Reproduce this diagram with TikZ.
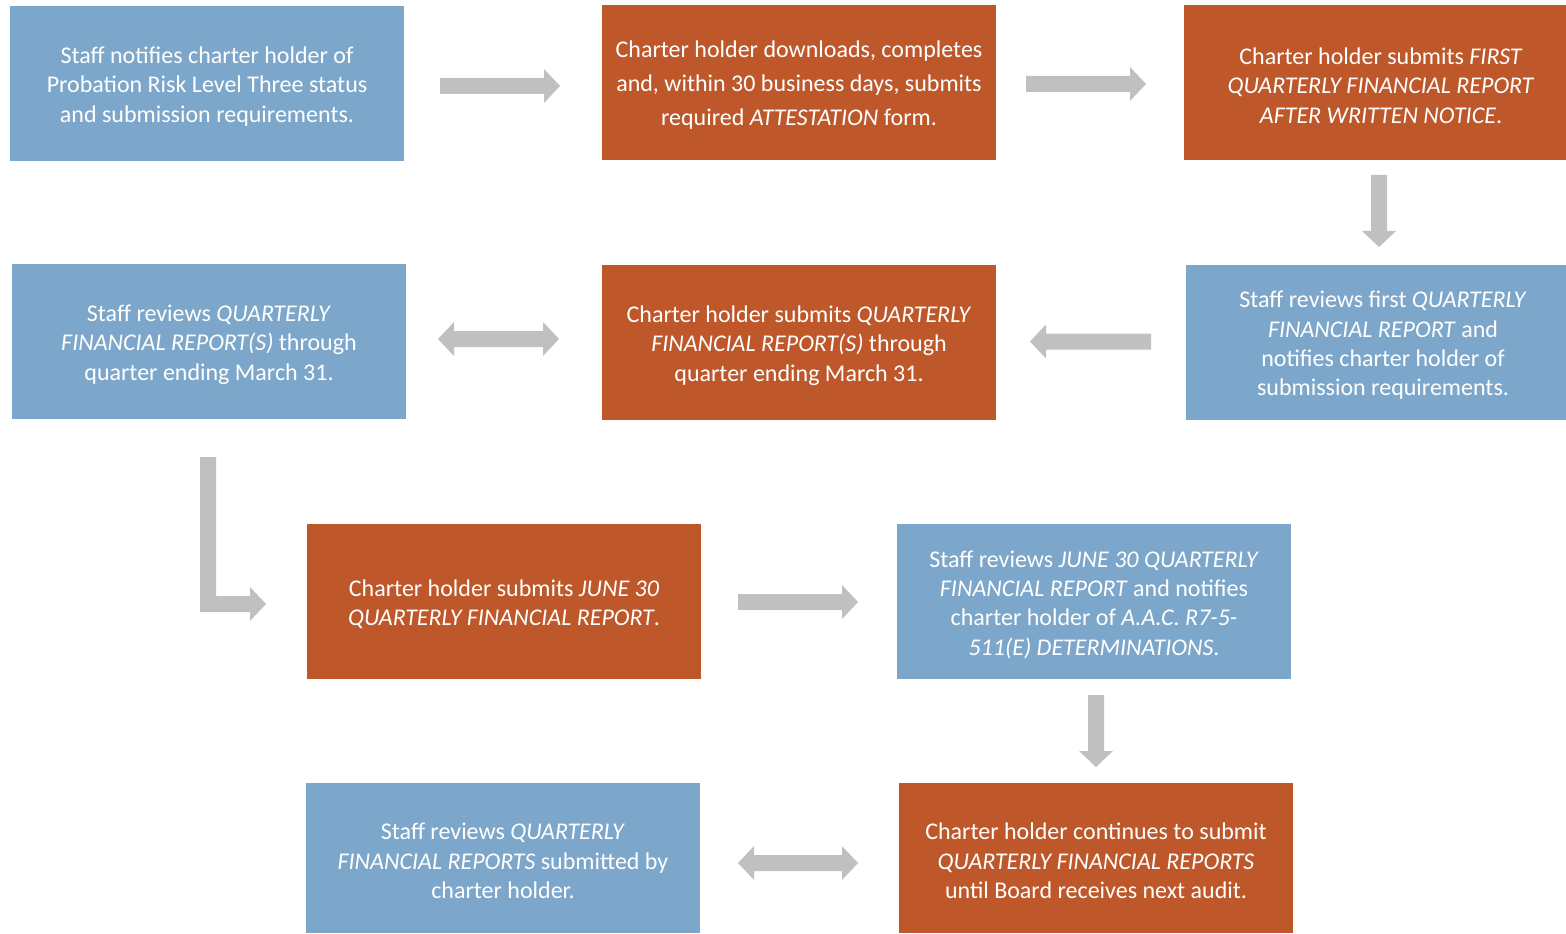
\documentclass[tikz,border=0pt]{standalone}
\usepackage{fontspec}
\setmainfont{Carlito}
\definecolor{boxblue}{HTML}{7DA7CA}
\definecolor{boxorange}{HTML}{BE582B}
\definecolor{arrowgray}{HTML}{C0C0C0}
\tikzset{
  box/.style={rectangle, inner sep=0pt,
    minimum width=295.5pt, minimum height=116.25pt},
  txt/.style={text=white, align=center, inner sep=0pt, yshift=-2.25pt,
    font=\fontsize{18}{22}\selectfont},
  bluebox/.style={box, fill=boxblue},
  orangebox/.style={box, fill=boxorange},
  pics/barrow/.style={code={
    \fill[arrowgray] (0,-8) -- ({#1-16},-8) -- ({#1-16},-17) -- (#1,0)
      -- ({#1-16},17) -- ({#1-16},8) -- (0,8) -- cycle;}},
  pics/dbarrow/.style={code={
    \fill[arrowgray] (0,0) -- (16,-17) -- (16,-8) -- ({#1-16},-8) -- ({#1-16},-17) -- (#1,0)
      -- ({#1-16},17) -- ({#1-16},8) -- (16,8) -- (16,17) -- cycle;}},
}
\begin{document}
\begin{tikzpicture}[x=0.75pt,y=-0.75pt]
\useasboundingbox (0,0) rectangle (1566,934);
% row 1
\node[bluebox, label={[txt]center:{Staff notifies charter holder of\\Probation Risk Level Three status\\and submission requirements.}}] (b1) at (207,83.5) {};
\node[orangebox, label={[txt, font=\fontsize{18}{25.5}\selectfont]center:{Charter holder downloads, completes\\and, within 30 business days, submits\\required \textit{ATTESTATION} form.}}] (b2) at (799,82.5) {};
\node[orangebox, label={[txt]center:{Charter holder submits \textit{FIRST}\\\textit{QUARTERLY FINANCIAL REPORT}\\\textit{AFTER WRITTEN NOTICE}.}}] (b3) at (1381,82.5) {};
% row 2
\node[bluebox, label={[txt]center:{Staff reviews \textit{QUARTERLY}\\\textit{FINANCIAL REPORT(S)} through\\quarter ending March 31.}}] (b4) at (209,341.5) {};
\node[orangebox, label={[txt]center:{Charter holder submits \textit{QUARTERLY}\\\textit{FINANCIAL REPORT(S)} through\\quarter ending March 31.}}] (b5) at (799,342.5) {};
\node[bluebox, label={[txt]center:{Staff reviews first \textit{QUARTERLY}\\\textit{FINANCIAL REPORT} and\\notifies charter holder of\\submission requirements.}}] (b6) at (1383,342.5) {};
% row 3
\node[orangebox, label={[txt]center:{Charter holder submits \textit{JUNE 30}\\\textit{QUARTERLY FINANCIAL REPORT}.}}] (b7) at (504,601.5) {};
\node[bluebox, label={[txt]center:{Staff reviews \textit{JUNE 30 QUARTERLY}\\\textit{FINANCIAL REPORT} and notifies\\charter holder of \textit{A.A.C. R7-5-}\\\textit{511(E) DETERMINATIONS}.}}] (b8) at (1094,601.5) {};
% row 4
\node[bluebox, minimum height=112.5pt, label={[txt]center:{Staff reviews \textit{QUARTERLY}\\\textit{FINANCIAL REPORTS} submitted by\\charter holder.}}] (b9) at (503,858) {};
\node[orangebox, minimum height=112.5pt, label={[txt]center:{Charter holder continues to submit\\\textit{QUARTERLY FINANCIAL REPORTS}\\until Board receives next audit.}}] (b10) at (1096,858) {};
% arrows
\pic at (440,86) {barrow=120};
\pic at (1026,84) {barrow=120};
\pic[rotate=-90] at (1379,175) {barrow=72};
\pic[rotate=180] at (1151,341.5) {barrow=121};
\pic at (438,339) {dbarrow=121};
\fill[arrowgray] (200,457) -- (216,457) -- (216,596) -- (250,596) -- (250,587) -- (266,604)
  -- (250,621) -- (250,612) -- (200,612) -- cycle;
\pic at (738,602) {barrow=120};
\pic[rotate=-90] at (1096,695) {barrow=72};
\pic at (738,863) {dbarrow=120};
\end{tikzpicture}
\end{document}
